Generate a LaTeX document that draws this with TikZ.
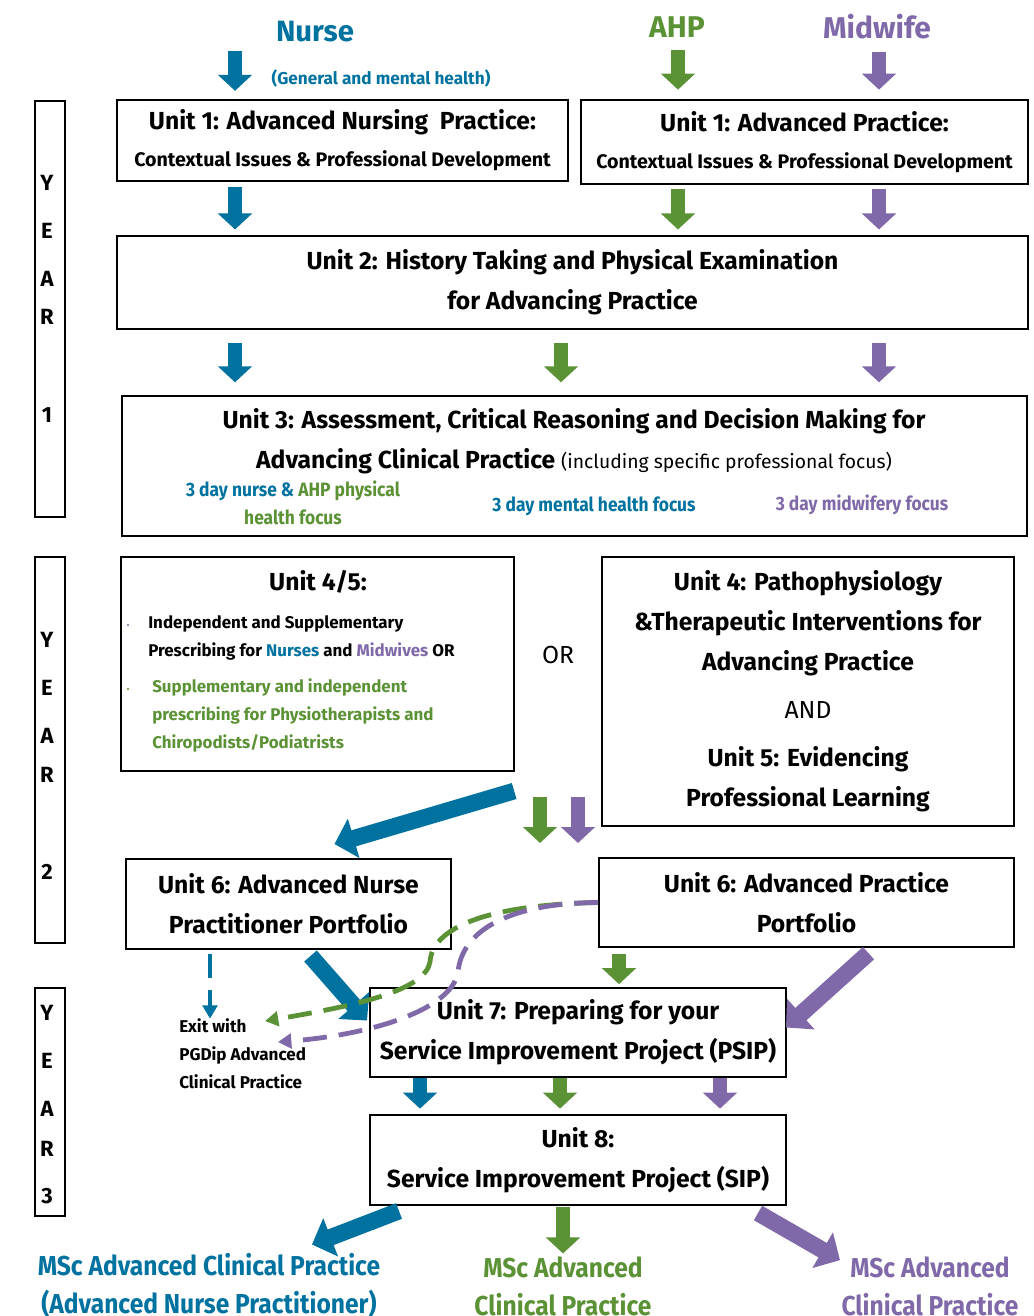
\documentclass[tikz,border=0pt]{standalone}
\usepackage{fontspec}
\setmainfont{Fira Sans}
\newfontfamily\cnd[FakeStretch=0.9]{Fira Sans}
\usetikzlibrary{arrows.meta,calc,positioning}
\definecolor{nurseblue}{RGB}{0,114,160}
\definecolor{ahpgreen}{RGB}{92,146,54}
\definecolor{midpurple}{RGB}{128,105,168}
\newcommand\ttl{\fontsize{18.5}{30}\selectfont\bfseries}
\newcommand\sml{\fontsize{12.7}{21}\selectfont\bfseries}
\tikzset{box/.style={draw,line width=1.5pt,inner sep=0pt,align=center,font=\ttl},
  yearbox/.style={draw,line width=2.2pt,minimum width=22.5pt,inner sep=0pt},
  yeartxt/.style={font=\fontsize{16.5}{36}\selectfont\bfseries,align=center,inner sep=0pt},
  blk/.style={line width=10.5pt,shorten <=4pt,shorten >=4pt,-{Triangle[width=25pt,length=12pt]}},
  bigblk/.style={line width=12.5pt,-{Triangle[width=30pt,length=15pt]}},
  dsh/.style={line width=3.6pt,dash pattern=on 18pt off 9pt,-{Triangle[width=11pt,length=10pt]}}}
\begin{document}
\begin{tikzpicture}[x=0.75pt,y=-0.75pt]
\useasboundingbox (0,0) rectangle (1034,1316);
% lanes for the short arrows
\coordinate (laneN) at (235,0);
\coordinate (laneA) at (678,0);
\coordinate (laneM) at (879,0);
\coordinate (laneC) at (561,0);
\coordinate (laneX) at (210,0);
\coordinate (laneG6) at (619,0);
\coordinate (laneB7) at (420,0);
\coordinate (laneG7) at (560,0);
\coordinate (laneP7) at (720,0);
\coordinate (laneG8) at (563,0);
\coordinate (ga1) at (540,797);
\coordinate (ga2) at (540,843);
\coordinate (pa1) at (578,797);
\coordinate (pa2) at (578,843);
\coordinate (exitG) at (265,1021);
\coordinate (exitP) at (278,1042);

% headings
\node[font=\fontsize{22}{26}\selectfont\bfseries,text=nurseblue] (nurse) at (315,32) {Nurse};
\node[font=\fontsize{12.9}{15}\selectfont\bfseries,text=nurseblue] (gmh) at (381,78) {(General and mental health)};
\node[font=\fontsize{22.5}{26}\selectfont\bfseries,text=ahpgreen] (ahp) at (677,27) {AHP};
\node[font=\fontsize{22.5}{26}\selectfont\bfseries,text=midpurple] (midw) at (877,27) {Midwife};

% year bars
\node[yearbox,minimum height=312pt] (yr1) at (50,309) {};
\node[yeartxt] (yr1t) at (47,298.5) {Y\\E\\A\\[-7pt]R\\[37pt]1};
\node[yearbox,minimum height=289.5pt] (yr2) at (50,750) {};
\node[yeartxt] (yr2t) at (47,756) {Y\\E\\A\\[-7pt]R\\[37pt]2};
\node[yearbox,minimum height=171pt] (yr3) at (50,1102) {};
\node[yeartxt] (yr3t) at (47,1104.5) {Y\\E\\A\\[-6pt]R\\[-1pt]3};

% units
\node[box,minimum width=338pt,minimum height=61pt,font=\fontsize{18.5}{28}\selectfont\bfseries] (u1n) at (342.5,140.5)
  {Unit 1: Advanced Nursing\ \ Practice:\\{\fontsize{14.7}{28}\selectfont Contextual Issues \& Professional Development}};
\node[box,minimum width=335pt,minimum height=63pt,font=\fontsize{18.5}{28}\selectfont\bfseries] (u1a) at (804.5,142)
  {Unit 1: Advanced Practice:\\{\fontsize{14.7}{28}\selectfont Contextual Issues \& Professional Development}};
\node[box,minimum width=683pt,minimum height=70pt] (u2) at (572.5,282.5)
  {Unit 2: History Taking and Physical Examination\\for Advancing Practice};
\node[box,minimum width=679pt,minimum height=105pt] (u3) at (574.5,466) {};
\node[align=center,font=\ttl,inner sep=0pt] (u3t) at (574,441.5)
  {Unit 3: Assessment, Critical Reasoning and Decision Making for\\Advancing Clinical Practice {\mdseries\fontsize{14.5}{30}\selectfont(including specific professional focus)}};
\node[align=center,font=\cnd\fontsize{14.5}{21}\selectfont\bfseries,inner sep=0pt] (f1) at (293,503)
  {\textcolor{nurseblue}{3 day nurse \&} \textcolor{ahpgreen}{AHP physical}\\\textcolor{ahpgreen}{health focus}};
\node[font=\cnd\fontsize{14.5}{21}\selectfont\bfseries,text=nurseblue,inner sep=0pt] (f2) at (594,506) {3 day mental health focus};
\node[font=\cnd\fontsize{14.5}{21}\selectfont\bfseries,text=midpurple,inner sep=0pt] (f3) at (862,505) {3 day midwifery focus};

\node[box,minimum width=295pt,minimum height=160.5pt] (u45) at (317.5,664) {};
\node[font=\ttl,inner sep=0pt] (u45t) at (318,582) {Unit 4/5:};
\fill[midpurple] (128,625) circle (0.9pt);
\fill[ahpgreen] (128,689) circle (0.9pt);
\node[anchor=west,align=left,font=\sml,inner sep=0pt] (pr1) at (148,638)
  {Independent and Supplementary\\Prescribing for \textcolor{nurseblue}{Nurses} and \textcolor{midpurple}{Midwives} OR};
\node[anchor=west,align=left,font=\sml,text=ahpgreen,inner sep=0pt] (pr2) at (152,716)
  {Supplementary and independent\\prescribing for Physiotherapists and\\Chiropodists/Podiatrists};
\node[font=\fontsize{18.5}{30}\selectfont] (or) at (558,655) {OR};
\node[box,minimum width=309pt,minimum height=202pt] (u45b) at (808,691.5)
  {Unit 4: Pathophysiology\\\&Therapeutic Interventions for\\Advancing Practice\\[6pt]{\mdseries AND}\\[6pt]Unit 5: Evidencing\\Professional Learning};

\node[box,minimum width=244pt,minimum height=67.5pt] (u6n) at (288.5,904) {Unit 6: Advanced Nurse\\Practitioner Portfolio};
\node[box,minimum width=311pt,minimum height=67pt] (u6a) at (806.5,902.5) {Unit 6: Advanced Practice\\Portfolio};
\node[anchor=west,align=left,font=\fontsize{12.8}{21}\selectfont\bfseries,inner sep=0pt] (exit) at (179,1054)
  {Exit with\\PGDip Advanced\\Clinical Practice};
\node[box,minimum width=312pt,minimum height=67pt] (u7) at (578,1032.5) {Unit 7: Preparing for your\\Service Improvement Project (PSIP)};
\node[box,minimum width=312pt,minimum height=67.5pt] (u8) at (578,1160) {Unit 8:\\Service Improvement Project (SIP)};

% outcomes
\node[align=center,font=\cnd\fontsize{20.5}{28.5}\selectfont\bfseries,text=nurseblue,inner sep=0pt] (mscN) at (209,1286)
  {MSc Advanced Clinical Practice\\(Advanced Nurse Practitioner)};
\node[align=center,font=\cnd\fontsize{20.5}{28.5}\selectfont\bfseries,text=ahpgreen,inner sep=0pt] (mscA) at (563,1286)
  {MSc Advanced\\Clinical Practice};
\node[align=center,font=\cnd\fontsize{20.5}{28.5}\selectfont\bfseries,text=midpurple,inner sep=0pt] (mscM) at (930,1286)
  {MSc Advanced\\Clinical Practice};

% entry arrows
\draw[blk,nurseblue,shorten <=3pt,shorten >=6pt] (nurse.south -| laneN) -- (u1n.north -| laneN);
\draw[blk,ahpgreen,shorten <=6pt,shorten >=7pt] (ahp.south -| laneA) -- (u1a.north -| laneA);
\draw[blk,midpurple,shorten <=6pt,shorten >=7pt] (midw.south -| laneM) -- (u1a.north -| laneM);
% year 1
\draw[blk,nurseblue] (u1n.south -| laneN) -- (u2.north -| laneN);
\draw[blk,ahpgreen,shorten <=3pt] (u1a.south -| laneA) -- (u2.north -| laneA);
\draw[blk,midpurple,shorten <=3pt] (u1a.south -| laneM) -- (u2.north -| laneM);
\draw[blk,nurseblue,shorten <=9.5pt,shorten >=9.5pt] (u2.south -| laneN) -- (u3.north -| laneN);
\draw[blk,ahpgreen,shorten <=9.5pt,shorten >=9.5pt] (u2.south -| laneC) -- (u3.north -| laneC);
\draw[blk,midpurple,shorten <=9.5pt,shorten >=9.5pt] (u2.south -| laneM) -- (u3.north -| laneM);
% year 2
\draw[bigblk,nurseblue] ($(u45.south east)+(-1,19)$) -- ($(u6n.north)+(46,-14)$);
\draw[blk,ahpgreen,shorten <=0pt,shorten >=0pt] (ga1) -- (ga2);
\draw[blk,midpurple,shorten <=0pt,shorten >=0pt] (pa1) -- (pa2);
% year 3
\draw[bigblk,nurseblue] ($(u6n.south)+(22,6)$) -- ($(u7.west)+(-2,-12)$);
\draw[blk,ahpgreen,shorten >=2pt] (u6a.south -| laneG6) -- (u7.north -| laneG6);
\draw[bigblk,midpurple] ($(u6a.south)+(62,5)$) -- ($(u7.east)+(-1,-5)$);
\draw[blk,nurseblue,shorten <=0pt] (u7.south -| laneB7) -- (u8.north -| laneB7);
\draw[blk,ahpgreen,shorten <=0pt] (u7.south -| laneG7) -- (u8.north -| laneG7);
\draw[blk,midpurple,shorten <=0pt] (u7.south -| laneP7) -- (u8.north -| laneP7);
\draw[bigblk,nurseblue] ($(u8.south west)+(30,5)$) -- ($(mscN.north)+(103,-9)$);
\draw[blk,ahpgreen,shorten <=1pt,shorten >=2pt] (u8.south -| laneG8) -- (mscA.north -| laneG8);
\draw[bigblk,midpurple] ($(u8.south east)+(-29,7)$) -- ($(mscM.north)+(-90,4)$);
% exits
\draw[dsh,nurseblue,shorten <=3pt] (u6n.south -| laneX) -- (exit.north -| laneX);
\draw[dsh,ahpgreen] (u6a.west) .. controls (480,905) and (432,930) .. (430,962)
  .. controls (425,990) and (360,1005) .. (exitG);
\draw[dsh,midpurple] (u6a.west) .. controls (510,903) and (462,930) .. (458,972)
  .. controls (452,1010) and (370,1035) .. (exitP);
\end{tikzpicture}
\end{document}
